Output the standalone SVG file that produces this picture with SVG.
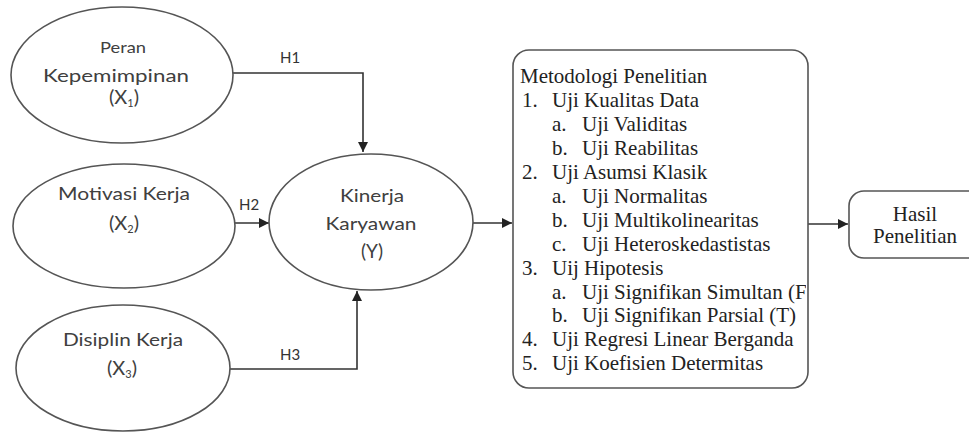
<svg xmlns="http://www.w3.org/2000/svg" width="969" height="433" viewBox="0 0 969 433">
<style>
.node{fill:#fff;stroke:#555;stroke-width:1.6}
.sans{font-family:Lato,"Open Sans","Liberation Sans",sans-serif;fill:#404040;text-anchor:middle}
.lbl{font-family:Lato,"Open Sans","Liberation Sans",sans-serif;fill:#333;font-size:15px}
.serif{font-family:"Liberation Serif","Times New Roman",serif;fill:#222;font-size:21px}
.edge{fill:none;stroke:#333;stroke-width:1.6}
</style>
<defs>
<marker id="arr" viewBox="0 0 10 10" refX="10" refY="5" markerWidth="10" markerHeight="10" markerUnits="userSpaceOnUse" orient="auto">
<path d="M0,0 L10,5 L0,10 Z" fill="#222"/>
</marker>
<clipPath id="boxclip"><rect x="514" y="51" width="292" height="336" rx="15"/></clipPath>
</defs>
<rect width="969" height="433" fill="#fff"/>

<g id="edges">
<polyline class="edge" points="233,73 363,73 363,152" marker-end="url(#arr)"/>
<line class="edge" x1="235" y1="223" x2="269" y2="223" marker-end="url(#arr)"/>
<polyline class="edge" points="230,369 357,369 357,291" marker-end="url(#arr)"/>
<line class="edge" x1="473" y1="223" x2="512" y2="223" marker-end="url(#arr)"/>
<line class="edge" x1="808" y1="224" x2="848" y2="224" marker-end="url(#arr)"/>
<text class="lbl" x="280" y="63">H1</text>
<text class="lbl" x="239" y="210">H2</text>
<text class="lbl" x="280" y="360">H3</text>
</g>

<g id="x1">
<ellipse class="node" cx="122" cy="75" rx="111" ry="68"/>
<text class="sans" x="123" y="53" font-size="15" textLength="46" lengthAdjust="spacingAndGlyphs">Peran</text>
<text class="sans" x="116" y="82" font-size="18" textLength="146" lengthAdjust="spacingAndGlyphs">Kepemimpinan</text>
<text class="sans" x="124" y="104" font-size="20">(X<tspan font-size="11" dy="3">1</tspan><tspan dy="-3">)</tspan></text>
</g>

<g id="x2">
<ellipse class="node" cx="124" cy="226" rx="111" ry="62"/>
<text class="sans" x="124" y="200" font-size="18" textLength="132" lengthAdjust="spacingAndGlyphs">Motivasi Kerja</text>
<text class="sans" x="124" y="230" font-size="20">(X<tspan font-size="11" dy="3">2</tspan><tspan dy="-3">)</tspan></text>
</g>

<g id="x3">
<ellipse class="node" cx="123" cy="368" rx="107" ry="63"/>
<text class="sans" x="123" y="346" font-size="18" textLength="120" lengthAdjust="spacingAndGlyphs">Disiplin Kerja</text>
<text class="sans" x="122" y="375" font-size="20">(X<tspan font-size="11" dy="3">3</tspan><tspan dy="-3">)</tspan></text>
</g>

<g id="y">
<ellipse class="node" cx="371" cy="222" rx="102" ry="68"/>
<text class="sans" x="372" y="202" font-size="18" textLength="64" lengthAdjust="spacingAndGlyphs">Kinerja</text>
<text class="sans" x="371" y="230" font-size="18" textLength="91" lengthAdjust="spacingAndGlyphs">Karyawan</text>
<text class="sans" x="372" y="258" font-size="19">(Y)</text>
</g>

<g id="metodologi">
<rect class="node" x="513" y="50" width="295" height="338" rx="16"/>
<g clip-path="url(#boxclip)" class="serif">
<text x="520" y="83">Metodologi Penelitian</text>
<text x="522" y="107">1.</text><text x="552" y="107">Uji Kualitas Data</text>
<text x="552" y="131">a.</text><text x="582" y="131">Uji Validitas</text>
<text x="552" y="155">b.</text><text x="582" y="155">Uji Reabilitas</text>
<text x="522" y="179">2.</text><text x="552" y="179">Uji Asumsi Klasik</text>
<text x="552" y="203">a.</text><text x="582" y="203">Uji Normalitas</text>
<text x="552" y="227">b.</text><text x="582" y="227">Uji Multikolinearitas</text>
<text x="552" y="251">c.</text><text x="582" y="251">Uji Heteroskedastistas</text>
<text x="522" y="275">3.</text><text x="552" y="275">Uij Hipotesis</text>
<text x="552" y="299">a.</text><text x="582" y="299">Uji Signifikan Simultan (F)</text>
<text x="552" y="322">b.</text><text x="582" y="322">Uji Signifikan Parsial (T)</text>
<text x="522" y="346">4.</text><text x="552" y="346">Uji Regresi Linear Berganda</text>
<text x="522" y="370">5.</text><text x="552" y="370">Uji Koefisien Determitas</text>
</g>
</g>

<g id="hasil">
<rect class="node" x="849" y="191" width="150" height="67" rx="15"/>
<text class="serif" x="915" y="221" text-anchor="middle" font-size="20">Hasil</text>
<text class="serif" x="915" y="243" text-anchor="middle" font-size="20">Penelitian</text>
</g>
</svg>
